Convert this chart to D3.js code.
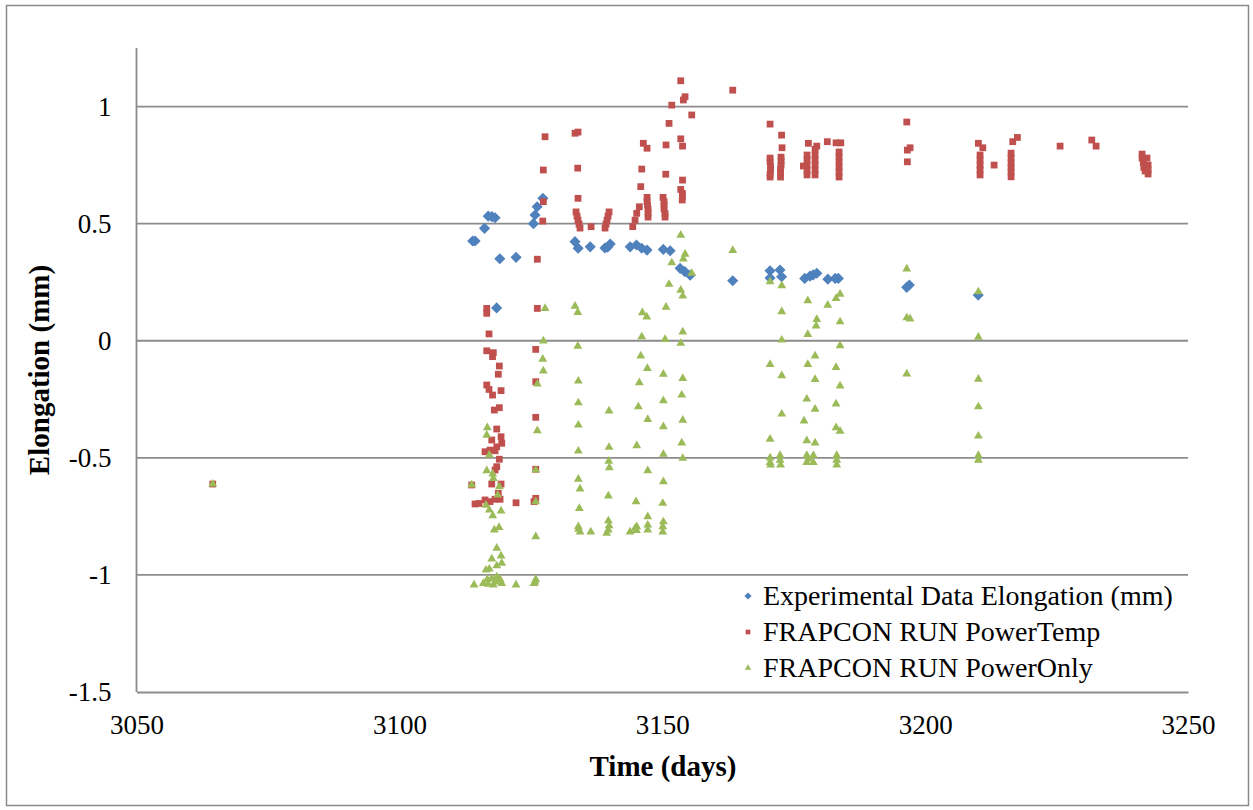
<!DOCTYPE html>
<html>
<head>
<meta charset="utf-8">
<script src="https://cdn.jsdelivr.net/npm/d3@7"></script>
<style>
  html, body { margin: 0; padding: 0; background: #fff; }
  text { font-family: "Liberation Serif", "Times New Roman", serif; fill: #000; }
</style>
</head>
<body>
<div id="chart"></div>
<script>
const W = 1253, H = 810;
const MARGIN = { top: 48, left: 136.5 };
const PLOT_RIGHT = 1188, PLOT_BOTTOM = 692;

const X_DOMAIN = [3050, 3250];
const Y_DOMAIN = [-1.5, 1.25];
const X_TICKS = [3050, 3100, 3150, 3200, 3250];
const Y_TICKS = [-1.5, -1, -0.5, 0, 0.5, 1];

const SERIES_NAMES = ["Experimental Data Elongation (mm)", "FRAPCON RUN PowerTemp", "FRAPCON RUN PowerOnly"];
const SERIES_COLORS = ["#4F81BD", "#C0504D", "#9BBB59"];

// [day, elongation mm]
const experimental = [
  [3113.95,0.426],[3114.4,0.426],[3116.2,0.48],[3116.9,0.532],[3117.6,0.53],[3118.2,0.525],
  [3119.1,0.35],[3122.2,0.356],[3118.5,0.14],[3127.3,0.608],[3126.2,0.572],[3125.8,0.537],
  [3125.5,0.50],[3133.4,0.423],[3134.0,0.395],[3136.3,0.401],[3139.1,0.396],[3139.6,0.399],
  [3140.1,0.413],[3143.9,0.401],[3145.1,0.409],[3146.1,0.395],[3147.1,0.387],[3150.2,0.39],
  [3151.5,0.384],[3153.4,0.309],[3154.3,0.295],[3155.3,0.28],[3163.4,0.256],[3170.5,0.299],
  [3172.4,0.302],[3170.5,0.268],[3172.7,0.273],[3177.1,0.266],[3178.1,0.276],[3178.7,0.281],
  [3179.4,0.288],[3181.5,0.263],[3182.9,0.266],[3183.5,0.266],[3196.5,0.228],[3197.0,0.238],
  [3210.1,0.195]
];

const powerTemp = [
  [3064.5,-0.612],
  [3113.76,-0.616],[3114.39,-0.697],[3115.15,-0.695],[3116.29,-0.68],[3117.24,-0.687],[3118.2,-0.677],
  [3119.15,-0.677],[3122.19,-0.692],[3117.57,-0.612],[3119.34,-0.612],[3118.82,-0.652],[3118.52,-0.538],
  [3118.2,-0.552],[3116.29,-0.474],[3117.24,-0.467],[3118.2,-0.47],[3119.01,-0.506],[3118.52,-0.377],
  [3117.57,-0.424],[3119.34,-0.41],[3119.47,-0.438],[3118.52,-0.453],[3118.06,-0.296],[3119.01,-0.286],
  [3116.62,-0.189],[3117.05,-0.208],[3117.72,-0.232],[3119.34,-0.213],[3119.01,-0.108],[3118.82,-0.143],
  [3116.62,-0.043],[3117.87,-0.051],[3117.72,-0.068],[3117.05,0.029],[3116.62,0.138],[3116.62,0.117],
  [3125.94,-0.037],[3125.94,-0.175],[3125.94,-0.327],[3125.94,-0.549],[3125.94,-0.673],[3125.61,-0.687],
  [3126.24,0.138],[3126.24,0.348],[3127.27,0.511],[3127.38,0.594],[3127.38,0.729],[3127.71,0.871],
  [3133.41,0.886],[3133.98,0.891],[3133.92,0.737],[3133.98,0.608],[3133.6,0.55],[3133.79,0.532],
  [3133.98,0.515],[3134.17,0.498],[3134.36,0.481],[3136.46,0.487],
  [3139.12,0.481],[3139.31,0.498],[3139.5,0.515],[3139.69,0.532],[3139.88,0.55],
  [3144.39,0.487],[3144.83,0.515],[3145.15,0.544],[3145.64,0.572],[3145.91,0.658],[3146.1,0.733],
  [3146.4,0.843],[3147.11,0.822],[3147.11,0.612],[3147.11,0.594],[3147.2,0.579],[3147.3,0.562],
  [3147.3,0.544],[3147.3,0.528],
  [3150.15,0.612],[3150.34,0.594],[3150.34,0.579],[3150.34,0.562],[3150.53,0.544],[3150.53,0.528],
  [3150.72,0.836],[3150.67,0.711],[3151.29,0.928],[3151.81,1.006],
  [3153.52,1.11],[3154.34,1.042],[3154.01,1.028],[3155.61,0.964],[3153.52,0.862],[3153.86,0.831],
  [3153.86,0.686],[3153.52,0.646],[3153.83,0.629],[3153.83,0.615],[3153.8,0.601],
  [3163.41,1.07],
  [3170.51,0.925],[3170.51,0.78],[3170.51,0.764],[3170.6,0.746],[3170.6,0.729],[3170.51,0.711],[3170.51,0.699],
  [3172.7,0.878],[3172.79,0.824],[3172.6,0.784],[3172.6,0.768],[3172.6,0.75],[3172.5,0.733],[3172.5,0.716],[3172.5,0.699],
  [3177.79,0.843],[3179.39,0.831],[3179.07,0.817],[3176.84,0.746],[3177.54,0.793],[3177.54,0.772],
  [3177.54,0.75],[3177.54,0.729],[3177.54,0.708],[3179.07,0.793],[3179.07,0.772],[3179.07,0.75],
  [3179.07,0.729],[3179.07,0.708],
  [3181.4,0.85],[3183.06,0.845],[3183.96,0.845],[3183.63,0.806],[3183.63,0.784],[3183.63,0.764],
  [3183.63,0.742],[3183.63,0.72],[3183.63,0.699],
  [3196.51,0.934],[3196.62,0.814],[3197.14,0.824],[3196.62,0.764],
  [3210.13,0.843],[3210.97,0.824],[3210.45,0.793],[3210.45,0.772],[3210.45,0.75],[3210.45,0.729],
  [3210.45,0.708],[3213.12,0.75],
  [3216.67,0.85],[3217.55,0.868],[3216.35,0.801],[3216.35,0.78],[3216.35,0.76],[3216.35,0.74],
  [3216.35,0.72],[3216.35,0.70],
  [3225.67,0.831],[3231.7,0.857],[3232.52,0.831],
  [3241.27,0.797],[3241.27,0.78],[3241.5,0.76],[3241.6,0.74],[3241.84,0.725],[3242.41,0.712],
  [3242.2,0.78],[3242.41,0.75],[3242.41,0.73]
];

const powerOnly = [
  [3064.5,-0.612],
  [3113.76,-0.616],[3116.73,-0.371],[3116.62,-0.403],[3117.11,-0.488],[3116.62,-0.555],[3117.76,-0.569],
  [3117.87,-0.588],[3119.01,-0.623],[3118.71,-0.659],[3116.48,-0.702],[3117.11,-0.723],[3119.34,-0.727],
  [3117.76,-0.747],[3118.06,-0.808],[3118.96,-0.797],[3118.52,-0.886],[3117.57,-0.932],[3119.34,-0.919],
  [3119.47,-0.95],[3116.48,-0.979],[3117.11,-0.975],[3118.52,-0.961],[3114.2,-1.043],[3115.97,-1.036],
  [3116.73,-1.019],[3117.57,-1.015],[3118.52,-1.008],[3119.15,-1.019],[3117.87,-1.043],[3119.47,-1.036],
  [3122.19,-1.043],[3118.3,-1.03],[3116.9,-1.04],
  [3127.71,0.138],[3127.38,-0.001],[3127.27,-0.079],[3127.38,-0.129],[3126.24,-0.185],[3126.24,-0.384],
  [3125.94,-0.552],[3125.94,-0.687],[3125.94,-0.837],[3125.61,-1.036],[3125.94,-1.019],[3125.8,-1.03],
  [3133.41,0.148],[3133.93,0.121],[3133.93,-0.023],[3134.04,-0.172],[3134.04,-0.265],[3134.04,-0.36],
  [3134.04,-0.471],[3134.04,-0.591],[3134.36,-0.633],[3134.23,-0.716],[3134.04,-0.794],[3134.36,-0.816],
  [3134.1,-0.805],[3136.4,-0.816],
  [3139.88,-0.3],[3139.88,-0.455],[3139.83,-0.514],[3139.94,-0.542],[3139.75,-0.663],[3139.75,-0.769],
  [3139.75,-0.808],[3139.45,-0.822],[3139.9,-0.79],
  [3146.22,0.12],[3147.05,0.102],[3146.1,0.017],[3145.91,-0.065],[3147.17,-0.118],[3145.64,-0.179],
  [3145.45,-0.282],[3147.24,-0.336],[3145.15,-0.448],[3147.24,-0.555],[3145.02,-0.687],[3147.24,-0.751],
  [3143.88,-0.816],[3144.83,-0.801],[3145.15,-0.794],[3147.24,-0.787],[3147.24,-0.808],[3145.1,-0.81],
  [3150.72,0.143],[3150.53,0.006],[3151.29,0.241],[3151.81,0.333],[3150.21,-0.143],[3150.21,-0.256],
  [3150.21,-0.367],[3150.21,-0.485],[3150.21,-0.602],[3150.1,-0.694],[3150.21,-0.773],[3150.1,-0.794],
  [3150.1,-0.816],
  [3153.52,0.451],[3154.34,0.37],[3154.01,0.349],[3155.61,0.288],[3153.52,0.216],[3153.9,0.191],
  [3153.9,0.038],[3153.52,-0.011],[3153.9,-0.161],[3153.71,-0.232],[3153.9,-0.339],[3153.71,-0.436],
  [3153.9,-0.502],
  [3163.41,0.386],
  [3170.51,0.252],[3172.73,0.235],[3172.73,0.124],[3172.73,0.003],[3170.51,-0.101],[3172.73,-0.149],
  [3172.73,-0.313],[3170.51,-0.42],[3170.51,-0.50],[3170.51,-0.52],[3170.6,-0.53],[3172.41,-0.49],
  [3172.41,-0.51],[3172.5,-0.53],
  [3177.68,0.171],[3181.48,0.152],[3183.06,0.181],[3183.82,0.199],[3179.39,0.091],[3179.26,0.063],
  [3183.82,0.081],[3177.68,0.027],[3183.82,-0.021],[3179.07,-0.065],[3177.68,-0.101],[3183.06,-0.114],
  [3179.07,-0.165],[3183.82,-0.193],[3177.49,-0.249],[3179.07,-0.292],[3183.06,-0.27],[3176.97,-0.342],
  [3183.06,-0.371],[3183.82,-0.386],[3177.49,-0.427],[3179.07,-0.436],[3177.49,-0.49],[3177.49,-0.52],
  [3178.74,-0.49],[3178.74,-0.52],[3177.8,-0.505],[3183.19,-0.49],[3183.19,-0.51],[3183.19,-0.53],
  [3196.51,0.307],[3196.51,0.098],[3197.14,0.093],[3196.51,-0.142],
  [3210.13,0.209],[3210.13,0.015],[3210.13,-0.164],[3210.13,-0.282],[3210.13,-0.407],[3210.13,-0.49],
  [3210.13,-0.51]
];

const svg = d3.select("#chart").append("svg")
  .attr("width", W)
  .attr("height", H);

// outer chart border
svg.append("rect")
  .attr("x", 6.5).attr("y", 5.5)
  .attr("width", W - 11).attr("height", H - 10)
  .attr("fill", "none")
  .attr("stroke", "#8a8a8a")
  .attr("stroke-width", 1.5);

const x = d3.scaleLinear().domain(X_DOMAIN).range([0, PLOT_RIGHT - MARGIN.left]);
const y = d3.scaleLinear().domain(Y_DOMAIN).range([PLOT_BOTTOM - MARGIN.top, 0]);

const g = svg.append("g").attr("transform", `translate(${MARGIN.left},${MARGIN.top})`);

// gridlines
g.append("g")
  .selectAll("line")
  .data(Y_TICKS.filter(d => d !== -1.5))
  .join("line")
  .attr("x1", 0).attr("x2", x.range()[1])
  .attr("y1", d => y(d)).attr("y2", d => y(d))
  .attr("stroke", "#8c8c8c")
  .attr("stroke-width", 1.8);

// axes (hyphen minus like the original, not unicode minus)
const fmt = d => String(d);
const yAxis = g.append("g")
  .call(d3.axisLeft(y).tickValues(Y_TICKS).tickSize(0).tickPadding(25).tickFormat(fmt));
const xAxis = g.append("g")
  .attr("transform", `translate(0,${y.range()[0]})`)
  .call(d3.axisBottom(x).tickValues(X_TICKS).tickSize(0).tickPadding(23).tickFormat(fmt));

[xAxis, yAxis].forEach(a => {
  a.select(".domain").attr("stroke", "#8c8c8c").attr("stroke-width", 1.8);
  a.selectAll("text")
    .attr("font-family", "Liberation Serif, serif")
    .attr("font-size", 27)
    .attr("fill", "#000");
});
yAxis.select(".domain").attr("d", `M0,${y.range()[0]}V0`);
xAxis.selectAll("text").attr("dy", "0.71em");

// axis titles
svg.append("text")
  .attr("x", 663).attr("y", 776)
  .attr("text-anchor", "middle")
  .attr("font-weight", "bold")
  .attr("font-size", 29)
  .text("Time (days)");

svg.append("text")
  .attr("transform", "translate(49,370) rotate(-90)")
  .attr("text-anchor", "middle")
  .attr("font-weight", "bold")
  .attr("font-size", 29)
  .text("Elongation (mm)");

// markers
const diamond = d3.symbol(d3.symbolSquare, 62)();
const square = d3.symbol(d3.symbolSquare, 46)();
const triangle = d3.symbol(d3.symbolTriangle, 34)();

const series = [
  { data: experimental, path: diamond, rot: 45 },
  { data: powerTemp, path: square, rot: 0 },
  { data: powerOnly, path: triangle, rot: 0 }
];

series.forEach((s, i) => {
  g.append("g")
    .selectAll("path")
    .data(s.data)
    .join("path")
    .attr("d", s.path)
    .attr("transform", d => `translate(${x(d[0])},${y(d[1])}) rotate(${s.rot})`)
    .attr("fill", SERIES_COLORS[i]);
});

// legend
const legend = svg.append("g").attr("transform", "translate(748,596)");
const legendPaths = [d3.symbol(d3.symbolSquare, 26)(), d3.symbol(d3.symbolSquare, 22)(), d3.symbol(d3.symbolTriangle, 18)()];
SERIES_NAMES.forEach((name, i) => {
  const row = legend.append("g").attr("transform", `translate(0,${i * 36})`);
  row.append("path")
    .attr("d", legendPaths[i])
    .attr("transform", i === 0 ? "rotate(45)" : null)
    .attr("fill", SERIES_COLORS[i]);
  row.append("text")
    .attr("x", 15).attr("y", 9)
    .attr("font-size", 28)
    .text(name);
});
</script>
</body>
</html>
